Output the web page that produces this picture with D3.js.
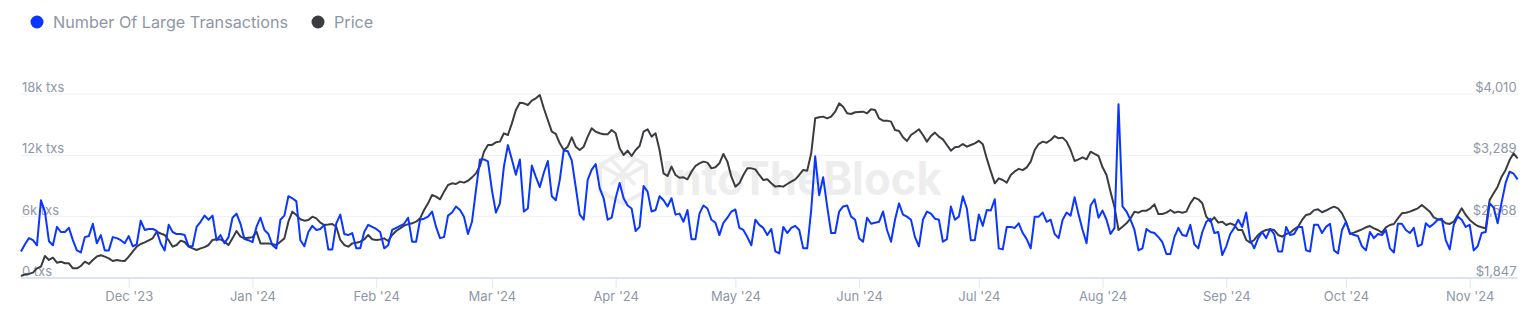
<!DOCTYPE html>
<html>
<head>
<meta charset="utf-8">
<script src="https://cdn.jsdelivr.net/npm/d3@7"></script>
<style>
  html, body { margin: 0; padding: 0; background: #ffffff; }
  svg { display: block; font-family: Inter, "Noto Sans", sans-serif; }
</style>
</head>
<body>
<svg id="chart" width="1536" height="320"></svg>
<script>
// ---- DATA ----
const startDate = "2023-11-04"; // first daily point
// Number of large transactions (thousands), daily
const largeTxK = [
2.6,3.3,3.9,3.7,3.2,7.6,6.5,3.6,3.2,5.0,4.5,4.5,4.9,3.7,2.7,2.5,4.0,4.1,5.3,3.4,
4.2,2.7,2.7,4.0,3.9,3.7,3.4,4.1,3.1,3.3,5.6,4.7,4.8,4.8,4.6,3.4,2.7,5.2,4.5,4.3,
4.3,4.2,3.1,3.1,5.0,5.5,6.1,5.7,6.1,3.7,4.2,3.4,4.0,5.9,6.3,5.3,3.8,3.7,3.5,5.0,
5.9,4.7,4.3,3.2,2.9,5.7,6.1,8.0,7.8,7.5,3.7,3.1,4.5,5.1,4.7,4.8,5.2,2.8,2.8,5.35,
6.2,4.3,4.2,4.4,2.9,2.9,4.5,5.2,5.0,4.8,4.5,2.9,3.2,4.7,4.9,5.1,5.3,5.9,3.55,3.55,
5.7,5.8,6.0,6.5,5.0,3.9,4.0,6.1,6.4,7.0,6.65,6.0,4.3,5.5,8.6,11.6,11.6,11.4,8.6,6.4,
7.3,10.9,13.0,11.6,10.1,11.6,6.5,6.8,11.0,9.9,8.9,10.3,11.45,8.0,7.6,9.6,12.5,12.4,11.5,8.9,
6.2,5.7,9.6,10.6,11.15,8.8,7.8,5.7,5.9,7.8,9.3,7.8,7.1,6.8,4.6,5.0,9.0,8.45,6.5,6.65,
8.0,7.6,7.0,7.8,6.2,6.3,5.5,6.65,3.8,3.8,6.3,7.1,6.8,5.7,5.4,4.2,5.4,5.9,6.5,6.7,
4.9,4.7,4.0,3.2,5.7,5.2,4.9,4.2,4.8,2.6,2.4,5.0,4.4,4.9,5.1,4.7,2.9,2.9,6.65,11.9,
8.1,9.85,7.0,4.4,4.4,6.5,7.0,7.1,6.0,5.7,3.9,3.55,5.9,5.3,5.4,5.5,6.5,4.7,3.55,5.7,
7.3,6.2,6.0,5.7,4.0,3.1,5.7,6.5,6.3,5.8,5.7,3.55,3.8,7.0,5.7,6.0,8.0,6.8,3.7,3.7,
6.2,5.1,6.65,6.6,7.7,2.9,2.8,5.0,5.0,4.9,5.35,4.4,3.8,2.9,6.0,6.0,6.4,5.5,5.7,4.3,
3.9,5.7,6.4,6.1,7.9,6.2,4.7,3.4,7.1,7.7,5.9,6.6,5.7,4.3,4.9,17.0,7.0,6.5,5.7,4.7,
2.7,2.9,4.8,4.5,4.4,4.0,3.5,2.35,2.35,4.0,4.9,4.2,4.1,5.2,3.3,2.9,4.5,5.5,5.8,4.4,
4.5,2.25,3.1,4.3,4.9,5.7,5.0,6.4,3.7,2.9,3.9,4.5,3.9,4.8,4.3,2.6,2.6,5.0,4.2,4.3,
5.0,5.0,2.7,2.6,5.2,5.2,4.4,5.0,5.3,2.7,2.4,4.7,5.5,4.4,4.2,4.1,3.1,2.7,4.5,3.9,
4.3,4.2,4.7,2.9,2.5,5.3,5.3,4.7,4.4,4.9,3.1,3.3,5.35,5.0,5.3,5.7,5.8,3.7,2.8,5.2,
6.0,5.7,5.0,5.2,2.7,3.1,4.4,4.5,7.3,6.9,5.35,7.4,9.3,10.4,10.2,9.65
];
// Price (USD), daily
const priceUsd = [
1870,1890,1895,1910,1961,1980,2106,2059,2086,2027,2039,2020,2020,1961,1961,1988,2039,2012,2059,2100,
2114,2098,2078,2047,2059,2050,2047,2098,2156,2215,2247,2266,2290,2313,2391,2370,2353,2290,2215,2235,
2286,2270,2215,2195,2176,2195,2210,2235,2294,2302,2300,2274,2235,2313,2400,2333,2313,2320,2325,2392,
2254,2254,2254,2245,2235,2274,2313,2509,2627,2588,2537,2521,2529,2568,2548,2498,2470,2475,2482,2450,
2294,2235,2215,2254,2262,2274,2300,2353,2302,2294,2300,2313,2282,2353,2400,2430,2462,2480,2490,2509,
2548,2646,2725,2823,2803,2772,2862,2940,2960,2952,2980,2968,2990,3030,3077,3164,3332,3411,3411,3442,
3450,3548,3528,3665,3822,3908,3900,3881,3932,3959,3998,3842,3704,3567,3540,3430,3352,3391,3501,3391,
3352,3391,3509,3607,3567,3548,3536,3536,3587,3548,3371,3293,3344,3281,3352,3399,3567,3595,3509,3548,
3352,3077,3046,3156,3058,3026,3030,3007,3097,3164,3195,3215,3203,3136,3148,3195,3305,3215,3038,2921,
2960,3058,3136,3136,3124,3058,2999,3007,2960,2921,2929,2921,2952,2979,3007,3058,3117,3109,3313,3724,
3736,3744,3724,3744,3802,3900,3861,3783,3775,3795,3799,3802,3783,3830,3822,3724,3697,3697,3685,3587,
3575,3501,3458,3528,3560,3595,3528,3450,3516,3556,3509,3477,3411,3344,3383,3391,3422,3391,3410,3430,
3460,3420,3250,3100,2960,3019,2999,2968,3058,3100,3130,3115,3148,3215,3352,3422,3450,3438,3469,3516,
3489,3497,3450,3352,3222,3242,3266,3242,3332,3305,3281,3148,3058,2862,2680,2411,2450,2490,2548,2627,
2615,2639,2639,2666,2713,2599,2599,2615,2646,2615,2627,2615,2627,2725,2791,2772,2725,2568,2509,2560,
2498,2509,2470,2490,2470,2411,2411,2294,2262,2294,2353,2392,2411,2419,2411,2353,2333,2364,2380,2419,
2450,2530,2588,2600,2645,2654,2620,2640,2666,2686,2666,2607,2509,2364,2380,2400,2419,2443,2458,2431,
2411,2380,2443,2470,2482,2548,2607,2615,2627,2646,2666,2705,2666,2627,2560,2537,2529,2490,2482,2509,
2588,2666,2588,2529,2490,2458,2443,2431,2764,2842,2921,3038,3117,3234,3313,3254
];
const leftTicks = [0, 6, 12, 18];                 // thousands of txs
const leftTickLabels = ["0 txs", "6k txs", "12k txs", "18k txs"];
const rightTicks = [1847, 2568, 3289, 4010];
const rightTickLabels = ["$1,847", "$2,568", "$3,289", "$4,010"];
const monthTicks = ["2023-12-01","2024-01-01","2024-02-01","2024-03-01","2024-04-01","2024-05-01",
                    "2024-06-01","2024-07-01","2024-08-01","2024-09-01","2024-10-01","2024-11-01"];
const monthLabels = ["Dec '23","Jan '24","Feb '24","Mar '24","Apr '24","May '24",
                     "Jun '24","Jul '24","Aug '24","Sep '24","Oct '24","Nov '24"];
const seriesNames = ["Number Of Large Transactions", "Price"];
const seriesColors = ["#0a36ff", "#3a3c40"];

// ---- BUILD ----
const parse = d3.utcParse("%Y-%m-%d");
const t0 = parse(startDate);
const dates = largeTxK.map((_, i) => d3.utcDay.offset(t0, i));

const svg = d3.select("#chart");
const plotL = 21, plotR = 1517.6, plotTop = 94, plotBottom = 278;
const gridColor = "#eef0f4";
const textColor = "#8e97a6";

const x = d3.scaleUtc().domain([dates[0], dates[dates.length - 1]]).range([plotL, plotR]);
const yL = d3.scaleLinear().domain([0, 18]).range([plotBottom, plotTop]);
const yR = d3.scaleLinear().domain([1847, 4010]).range([plotBottom, plotTop]);

// watermark
const wm = svg.append("g").attr("opacity", 0.065);
const lg = wm.append("g").attr("transform", "translate(623,178)").attr("fill", "none").attr("stroke", "#000").attr("stroke-width", 4);
lg.append("path").attr("d", "M0,-26 L23,-13 L23,13 L0,26 L-23,13 L-23,-13 Z");
lg.append("path").attr("d", "M-23,-13 L0,0 L23,-13 M0,0 L0,26 M-12,-19 L12,7 M12,-19 L-12,7");
wm.append("text").attr("x", 662).attr("y", 195).attr("font-size", 46).attr("font-weight", 700)
  .attr("textLength", 280).attr("lengthAdjust", "spacingAndGlyphs")
  .attr("fill", "#000").attr("font-family", "Inter, sans-serif").text("IntoTheBlock");

// gridlines (skip bottom, which is the axis line)
svg.append("g").selectAll("line").data(leftTicks.slice(1)).join("line")
  .attr("x1", plotL).attr("x2", plotR).attr("y1", d => yL(d)).attr("y2", d => yL(d))
  .attr("stroke", gridColor).attr("stroke-width", 1);

// bottom axis
const xAxis = d3.axisBottom(x)
  .tickValues(monthTicks.map(parse))
  .tickFormat((d, i) => monthLabels[i])
  .tickSize(10).tickPadding(4);
const gx = svg.append("g").attr("transform", `translate(0,${plotBottom})`).call(xAxis);
gx.select(".domain").remove();
gx.selectAll(".tick line").attr("stroke", "#e1e7f0").attr("stroke-width", 1);
gx.selectAll(".tick text").attr("fill", textColor).attr("font-size", 13).attr("font-family", "Inter, sans-serif");
svg.append("line").attr("x1", plotL).attr("x2", plotR).attr("y1", plotBottom).attr("y2", plotBottom)
  .attr("stroke", "#dde4ef").attr("stroke-width", 2);

// left axis labels
const gyl = svg.append("g").attr("transform", `translate(${plotL},0)`)
  .call(d3.axisRight(yL).tickValues(leftTicks).tickFormat((d, i) => leftTickLabels[i]).tickSize(0).tickPadding(0));
gyl.select(".domain").remove();
gyl.selectAll(".tick text").attr("fill", textColor).attr("font-size", 13)
  .attr("font-family", "Inter, sans-serif").attr("dy", "-0.2em").attr("text-anchor", "start").attr("x", 1);

// right axis labels
const gyr = svg.append("g").attr("transform", `translate(${plotR - 1},0)`)
  .call(d3.axisLeft(yR).tickValues(rightTicks).tickFormat((d, i) => rightTickLabels[i]).tickSize(0).tickPadding(0));
gyr.select(".domain").remove();
gyr.selectAll(".tick text").attr("fill", textColor).attr("font-size", 13)
  .attr("font-family", "Inter, sans-serif").attr("dy", "-0.2em").attr("text-anchor", "end").attr("x", 0);

// lines
const linePrice = d3.line().x((d, i) => x(dates[i])).y(d => yR(d));
const lineTx = d3.line().x((d, i) => x(dates[i])).y(d => yL(d));
svg.append("path").datum(priceUsd).attr("d", linePrice).attr("fill", "none")
  .attr("stroke", seriesColors[1]).attr("stroke-width", 2).attr("stroke-linejoin", "round");
svg.append("path").datum(largeTxK).attr("d", lineTx).attr("fill", "none")
  .attr("stroke", seriesColors[0]).attr("stroke-width", 2).attr("stroke-linejoin", "round");

// legend
const legendX = [37, 318];
const leg = svg.append("g");
seriesNames.forEach((name, i) => {
  leg.append("circle").attr("cx", legendX[i]).attr("cy", 22).attr("r", 6.5).attr("fill", seriesColors[i]);
  leg.append("text").attr("x", legendX[i] + 16).attr("y", 28).attr("font-size", 16.2)
    .attr("font-family", "Inter, sans-serif").attr("fill", textColor).text(name);
});
</script>
</body>
</html>
